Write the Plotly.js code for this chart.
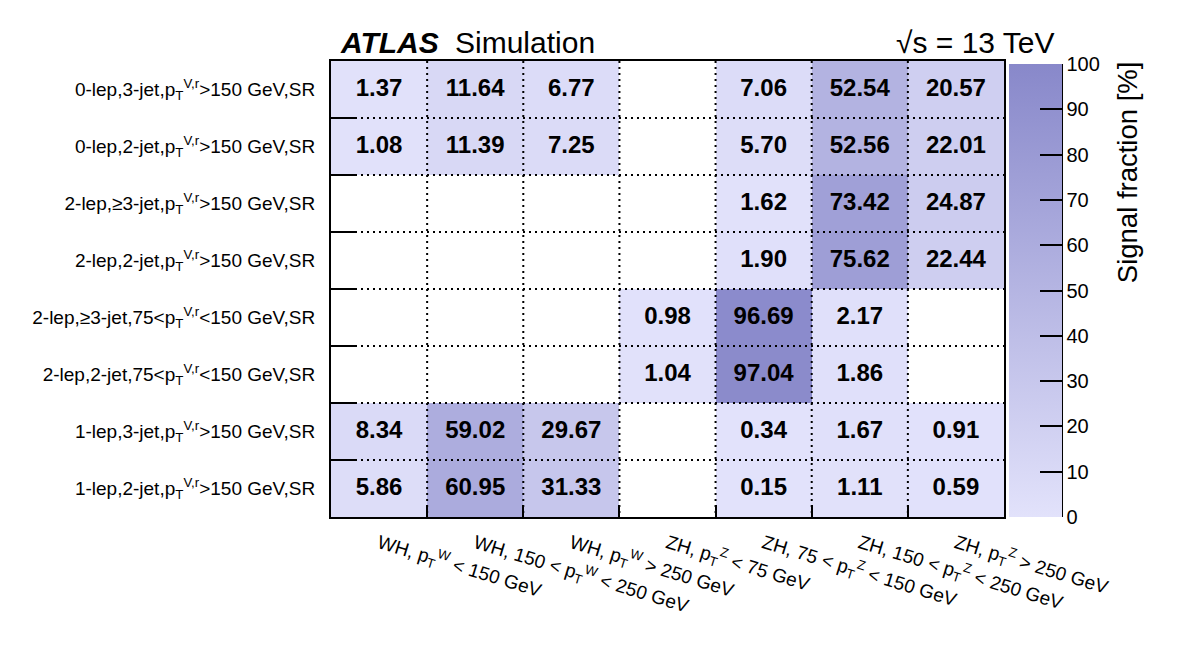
<!DOCTYPE html>
<html>
<head>
<meta charset="utf-8">
<script src="https://cdn.plot.ly/plotly-3.0.1.min.js"></script>
<style>
  html, body { margin: 0; padding: 0; background: #ffffff; }
  #chart { width: 1182px; height: 646px; }
</style>
</head>
<body>
<div id="chart"></div>
<script>
// Truth-level production bins (columns)
const truthBins = [
  'WH, p<sub>T</sub><sup>W</sup> &lt; 150 GeV',
  'WH, 150 &lt; p<sub>T</sub><sup>W</sup> &lt; 250 GeV',
  'WH, p<sub>T</sub><sup>W</sup> &gt; 250 GeV',
  'ZH, p<sub>T</sub><sup>Z</sup> &lt; 75 GeV',
  'ZH, 75 &lt; p<sub>T</sub><sup>Z</sup> &lt; 150 GeV',
  'ZH, 150 &lt; p<sub>T</sub><sup>Z</sup> &lt; 250 GeV',
  'ZH, p<sub>T</sub><sup>Z</sup> &gt; 250 GeV'
];

// Reconstructed signal regions (rows, listed top to bottom)
const signalRegions = [
  '0-lep,3-jet,p<sub>T</sub><sup>V,r</sup>&gt;150 GeV,SR',
  '0-lep,2-jet,p<sub>T</sub><sup>V,r</sup>&gt;150 GeV,SR',
  '2-lep,\u22653-jet,p<sub>T</sub><sup>V,r</sup>&gt;150 GeV,SR',
  '2-lep,2-jet,p<sub>T</sub><sup>V,r</sup>&gt;150 GeV,SR',
  '2-lep,\u22653-jet,75&lt;p<sub>T</sub><sup>V,r</sup>&lt;150 GeV,SR',
  '2-lep,2-jet,75&lt;p<sub>T</sub><sup>V,r</sup>&lt;150 GeV,SR',
  '1-lep,3-jet,p<sub>T</sub><sup>V,r</sup>&gt;150 GeV,SR',
  '1-lep,2-jet,p<sub>T</sub><sup>V,r</sup>&gt;150 GeV,SR'
];

// Signal fraction [%] per region (one array per row, same order as signalRegions)
const lep0Jet3Hi = [1.37, 11.64, 6.77, null, 7.06, 52.54, 20.57];
const lep0Jet2Hi = [1.08, 11.39, 7.25, null, 5.70, 52.56, 22.01];
const lep2Jet3Hi = [null, null, null, null, 1.62, 73.42, 24.87];
const lep2Jet2Hi = [null, null, null, null, 1.90, 75.62, 22.44];
const lep2Jet3Md = [null, null, null, 0.98, 96.69, 2.17, null];
const lep2Jet2Md = [null, null, null, 1.04, 97.04, 1.86, null];
const lep1Jet3Hi = [8.34, 59.02, 29.67, null, 0.34, 1.67, 0.91];
const lep1Jet2Hi = [5.86, 60.95, 31.33, null, 0.15, 1.11, 0.59];

const fractions = [lep0Jet3Hi, lep0Jet2Hi, lep2Jet3Hi, lep2Jet2Hi,
                   lep2Jet3Md, lep2Jet2Md, lep1Jet3Hi, lep1Jet2Hi];

const colorbarTicks = [0, 10, 20, 30, 40, 50, 60, 70, 80, 90, 100];

const nCols = truthBins.length;
const nRows = signalRegions.length;
const colCenters = truthBins.map((_, i) => i + 0.5);
const rowCenters = signalRegions.map((_, j) => j + 0.5);
const colEdges = Array.from({length: nCols - 1}, (_, i) => i + 1);
const rowEdges = Array.from({length: nRows - 1}, (_, j) => j + 1);

// Value labels for filled cells only
const labelX = [], labelY = [], labelText = [];
fractions.forEach((row, j) => row.forEach((v, i) => {
  if (v !== null) {
    labelX.push(colCenters[i]);
    labelY.push(rowCenters[j]);
    labelText.push('<b>' + v.toFixed(2) + '</b>');
  }
}));

const FONT = 'Liberation Sans, Arial, Helvetica, sans-serif';

const heat = {
  type: 'heatmap',
  x: colCenters,
  y: rowCenters,
  z: fractions,
  zmin: 0,
  zmax: 100,
  colorscale: [[0, 'rgb(226,226,251)'], [1, 'rgb(136,136,202)']],
  hoverinfo: 'skip',
  showscale: true,
  colorbar: {
    x: 1.0074, xanchor: 'left', xpad: 0,
    y: 0, yanchor: 'bottom', ypad: 0,
    lenmode: 'pixels', len: 453,
    thickness: 53,
    outlinewidth: 0,
    tickmode: 'array',
    tickvals: colorbarTicks,
    ticktext: colorbarTicks.map(String),
    ticks: 'inside',
    ticklen: 22,
    tickwidth: 2,
    tickcolor: '#000000',
    tickfont: {family: FONT, size: 20, color: '#000000'}
  }
};

const values = {
  type: 'scatter',
  mode: 'text',
  x: labelX,
  y: labelY,
  text: labelText,
  textposition: 'middle center',
  textfont: {family: FONT, size: 24, color: '#000000'},
  hoverinfo: 'skip',
  showlegend: false,
  cliponaxis: false
};

// Dotted cell separators drawn over the colour cells
const shapes = [];
colEdges.forEach(xv => shapes.push({
  type: 'line', xref: 'x', yref: 'y', layer: 'above',
  x0: xv, x1: xv, y0: 0, y1: nRows,
  line: {color: '#000000', width: 2, dash: '2px,4px'}
}));
rowEdges.forEach(yv => shapes.push({
  type: 'line', xref: 'x', yref: 'y', layer: 'above',
  x0: 0, x1: nCols, y0: yv, y1: yv,
  line: {color: '#000000', width: 2, dash: '2px,4px'}
}));
// Axis line on the right side of the colour bar
shapes.push({
  type: 'line', xref: 'paper', yref: 'paper', layer: 'above',
  x0: 1.0862, x1: 1.0862, y0: 0, y1: 0.9934,
  line: {color: '#000000', width: 2}
});

const layout = {
  width: 1182,
  height: 646,
  margin: {l: 331, r: 178, t: 61, b: 129},
  paper_bgcolor: '#ffffff',
  plot_bgcolor: '#ffffff',
  font: {family: FONT, color: '#000000'},
  showlegend: false,
  xaxis: {
    range: [0, nCols],
    tickmode: 'array',
    tickvals: colCenters,
    ticktext: truthBins,
    ticks: '',
    tickangle: 17,
    ticklabelstandoff: 6,
    tickfont: {family: FONT, size: 19, color: '#000000'},
    showgrid: false,
    zeroline: false,
    showline: true,
    mirror: true,
    linecolor: '#000000',
    linewidth: 2,
    minor: {
      tickmode: 'array', tickvals: colEdges,
      ticks: 'inside', ticklen: 12, tickwidth: 2, tickcolor: '#000000',
      showgrid: false
    },
    fixedrange: true
  },
  yaxis: {
    range: [nRows, 0],
    tickmode: 'array',
    tickvals: rowCenters,
    ticktext: signalRegions,
    ticks: '',
    ticklabelstandoff: 10,
    tickfont: {family: FONT, size: 19, color: '#000000'},
    showgrid: false,
    zeroline: false,
    showline: true,
    mirror: true,
    linecolor: '#000000',
    linewidth: 2,
    minor: {
      tickmode: 'array', tickvals: rowEdges,
      ticks: 'inside', ticklen: 24, tickwidth: 2, tickcolor: '#000000',
      showgrid: false
    },
    fixedrange: true
  },
  shapes: shapes,
  annotations: [
    {
      text: '<b><i>ATLAS</i></b>', xref: 'paper', yref: 'paper',
      x: 0.0104, y: 1.0, xanchor: 'left', yanchor: 'bottom',
      showarrow: false, font: {family: FONT, size: 30, color: '#000000'}
    },
    {
      text: 'Simulation', xref: 'paper', yref: 'paper',
      x: 0.1813, y: 1.0, xanchor: 'left', yanchor: 'bottom',
      showarrow: false, font: {family: FONT, size: 30, color: '#000000'}
    },
    {
      text: '\u221As = 13 TeV', xref: 'paper', yref: 'paper',
      x: 1.0788, y: 1.0, xanchor: 'right', yanchor: 'bottom',
      showarrow: false, font: {family: FONT, size: 30, color: '#000000'}
    },
    {
      text: 'Signal fraction [%]', xref: 'paper', yref: 'paper',
      x: 1.1828, y: 1.004, xanchor: 'center', yanchor: 'top',
      textangle: -90,
      showarrow: false, font: {family: FONT, size: 27.5, color: '#000000'}
    }
  ]
};

Plotly.newPlot('chart', [heat, values], layout, {displayModeBar: false, staticPlot: true});
</script>
</body>
</html>
